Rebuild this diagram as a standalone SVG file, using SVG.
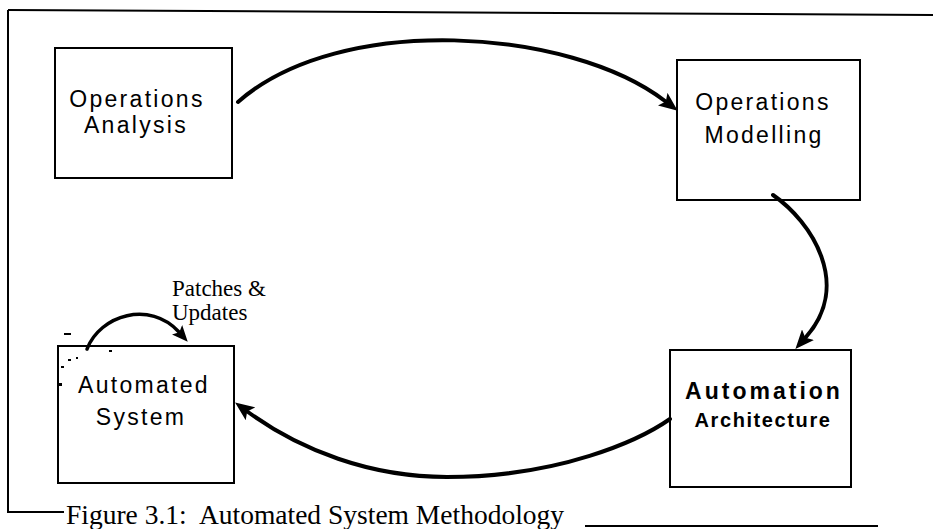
<svg xmlns="http://www.w3.org/2000/svg" width="933" height="529" viewBox="0 0 933 529">
  <style>
    .box { fill: #ffffff; stroke: #000000; stroke-width: 2; }
    .frame { fill: none; stroke: #000000; stroke-width: 2; }
    .node { font-family: "Liberation Sans", Arial, sans-serif; font-size: 23px; letter-spacing: 2.3px; fill: #000000; text-anchor: middle; }
    .bold { font-weight: bold; }
    .serif { font-family: "Liberation Serif", "Times New Roman", serif; fill: #000000; }
    .arc { fill: none; stroke: #000000; stroke-width: 4; stroke-linecap: round; }
    .arc-thin { fill: none; stroke: #000000; stroke-width: 3.5; stroke-linecap: round; }
    .speck { fill: #000000; }
  </style>
  <defs>
    <marker id="head" viewBox="0 0 20 16" markerWidth="20" markerHeight="16" refX="3" refY="8" orient="auto" markerUnits="userSpaceOnUse">
      <path d="M0,0 L19,8 L0,16 L4,8 z" fill="#000000"/>
    </marker>
    <marker id="head-small" viewBox="0 0 17 14" markerWidth="17" markerHeight="14" refX="3" refY="7" orient="auto" markerUnits="userSpaceOnUse">
      <path d="M0,0 L16,7 L0,14 L3.5,7 z" fill="#000000"/>
    </marker>
  </defs>

  <!-- outer figure frame -->
  <g id="frame">
    <path class="frame" d="M8,10 L933,15"/>
    <path class="frame" d="M8,10 L8,512 L64,512"/>
    <path class="frame" d="M585,526 L878,526"/>
  </g>

  <g id="operations-analysis">
    <rect class="box" x="55" y="48" width="177" height="130"/>
    <text class="node" x="137" y="107">Operations</text>
    <text class="node" x="136" y="133">Analysis</text>
  </g>

  <g id="operations-modelling">
    <rect class="box" x="677" y="60" width="183" height="140"/>
    <text class="node" x="763" y="110">Operations</text>
    <text class="node" x="764" y="143">Modelling</text>
  </g>

  <g id="automation-architecture">
    <rect class="box" x="670" y="350" width="181" height="137"/>
    <text class="node bold" x="764" y="399" style="font-size:23px; letter-spacing:3px">Automation</text>
    <text class="node" x="763" y="427" style="font-size:20px; letter-spacing:1.6px; font-weight:bold">Architecture</text>
  </g>

  <g id="automated-system">
    <rect class="box" x="58" y="346" width="176" height="137"/>
    <text class="node" x="144" y="393">Automated</text>
    <text class="node" x="141" y="425">System</text>
  </g>

  <g id="connectors">
    <path class="arc" d="M238,102 C340,12 570,28 665,101" marker-end="url(#head)"/>
    <path class="arc" d="M773,195 C812,222 852,285 806,337" marker-end="url(#head)"/>
    <path class="arc" d="M670,419 C640,440 560,477 447,477 C370,477 300,450 248,412" marker-end="url(#head)"/>
    <path class="arc-thin" d="M87,349 C100,315 150,300 179,332" marker-end="url(#head-small)"/>
  </g>

  <g id="patches-label">
    <text class="serif" x="172" y="296" font-size="23">Patches &amp;</text>
    <text class="serif" x="172" y="320" font-size="23">Updates</text>
  </g>

  <!-- small marks at the corner of the Automated System box -->
  <g id="specks">
    <rect class="speck" x="64" y="333" width="7" height="2"/>
    <rect class="speck" x="68" y="359" width="3" height="2"/>
    <rect class="speck" x="76" y="357" width="2" height="2"/>
    <rect class="speck" x="61" y="366" width="3" height="2"/>
    <rect class="speck" x="59" y="383" width="3" height="3"/>
    <rect class="speck" x="109" y="350" width="3" height="2"/>
  </g>

  <text id="caption" class="serif" x="66" y="524" font-size="27.5" xml:space="preserve">Figure 3.1:  Automated System Methodology</text>
</svg>
